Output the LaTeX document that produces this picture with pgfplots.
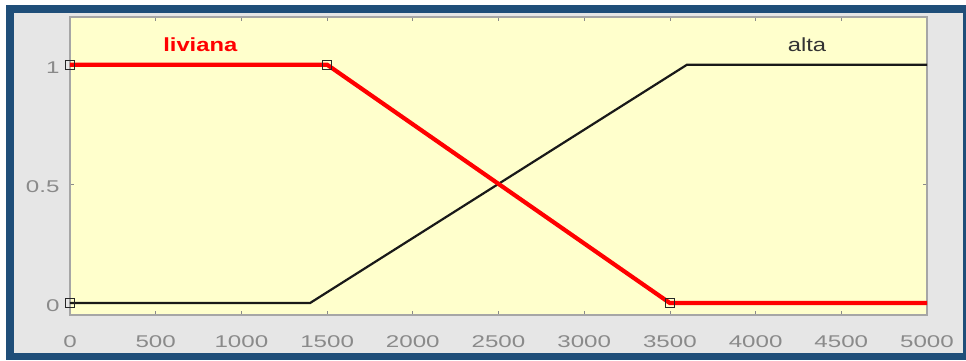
\documentclass[border=0pt]{standalone}
\usepackage{fontspec}
\setmainfont{Liberation Sans}[FakeStretch=1.25]
\newfontfamily\tickfont{Liberation Sans}[FakeStretch=1.42]
\usepackage{pgfplots}
\pgfplotsset{compat=1.18}
\definecolor{framebl}{HTML}{1F4E79}
\definecolor{bggray}{HTML}{E6E6E6}
\definecolor{axbg}{HTML}{FFFFCC}
\definecolor{tickgray}{HTML}{8A8A8A}
\definecolor{boxgray}{HTML}{A6A6A6}
\begin{document}
\begin{tikzpicture}
\useasboundingbox (-70pt,-45pt) rectangle (896pt,315pt);
\fill[white] (-70pt,-45pt) rectangle (896pt,315pt);
\fill[framebl] (-64pt,-45pt) rectangle (896pt,310pt);
\fill[bggray] (-56pt,-38pt) rectangle (893pt,302pt);
\begin{axis}[
  scale only axis, width=857pt, height=298pt,
  xmin=0, xmax=5000, ymin=-0.05, ymax=1.2,
  axis background/.style={fill=axbg},
  axis line style={boxgray, line width=1.2pt},
  tick align=inside, major tick length=4pt,
  tick style={tickgray, line width=0.7pt},
  xtick={0,500,...,5000}, ytick={0,0.5,1},
  scaled x ticks=false,
  /pgf/number format/.cd, 1000 sep={}, assume math mode=true, /pgfplots/.cd,
  ticklabel style={text=tickgray, font=\tickfont\fontsize{17}{19}\selectfont},
  xticklabel style={yshift=-17pt},
  yticklabel style={xshift=-7pt, yshift=-3pt},
  clip=false,
]
\addplot[black!90, line width=2.2pt] coordinates {(0,0) (1400,0) (3600,1) (5000,1)};
\addplot[red, line width=4.2pt] coordinates {(0,1) (1500,1) (3500,0) (5000,0)};
\addplot[only marks, mark=square, mark size=4.5pt, black!85, line width=1.3pt] coordinates {(0,1) (1500,1) (3500,0) (0,0)};
\node[text=red, font=\bfseries\fontsize{19}{22}\selectfont] at (axis cs:760,1.085) {liviana};
\node[text=black!80, font=\fontsize{19}{22}\selectfont] at (axis cs:4300,1.085) {alta};
\end{axis}
\end{tikzpicture}
\end{document}
